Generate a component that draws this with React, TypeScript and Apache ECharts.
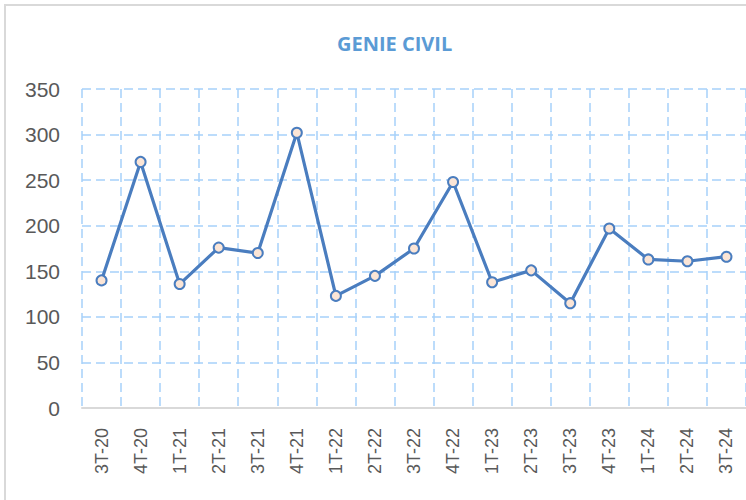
import React, { useEffect, useRef } from "react";
import * as echarts from "echarts";

const categories = ["3T-20", "4T-20", "1T-21", "2T-21", "3T-21", "4T-21", "1T-22", "2T-22", "3T-22", "4T-22", "1T-23", "2T-23", "3T-23", "4T-23", "1T-24", "2T-24", "3T-24"];
const values = [140, 270, 136, 176, 170, 302, 123, 145, 175, 248, 138, 151, 115, 197, 163, 161, 166];
const title = "GENIE CIVIL";

export default function App() {
  const ref = useRef<HTMLDivElement>(null);
  useEffect(() => {
    if (!ref.current) return;
    const chart = echarts.init(ref.current, null, { renderer: "svg" });
    const font = "'Liberation Sans', 'DejaVu Sans', sans-serif";
    chart.setOption({
      animation: false,
      backgroundColor: "#ffffff",
      title: {
        text: title,
        left: 332,
        top: 28,
        textStyle: { color: "#5b9bd5", fontSize: 20, fontWeight: "bold", fontFamily: "'Open Sans', sans-serif" },
      },
      graphic: [
        {
          type: "rect",
          shape: { x: 5, y: 5, width: 800, height: 600 },
          style: { fill: "none", stroke: "#d9d9d9", lineWidth: 2 },
          z: -1,
        },
      ],
      grid: { left: 82, top: 89, right: -4, bottom: 92 },
      xAxis: {
        type: "category",
        data: categories,
        boundaryGap: true,
        axisLine: { show: true, lineStyle: { color: "#d9d9d9", width: 2 } },
        axisTick: { show: false },
        axisLabel: { rotate: 90, fontSize: 18, color: "#595959", margin: 20, fontFamily: font },
        splitLine: { show: true, lineStyle: { color: "#a6d1fa", type: [9, 5], width: 1.5 } },
      },
      yAxis: {
        type: "value",
        min: 0,
        max: 350,
        interval: 50,
        axisLine: { show: false },
        axisTick: { show: false },
        axisLabel: { fontSize: 21, color: "#595959", margin: 22, fontFamily: font },
        splitLine: { show: true, lineStyle: { color: "#a6d1fa", type: [9, 5], width: 1.5 } },
      },
      series: [
        {
          type: "line",
          data: values,
          symbol: "circle",
          symbolSize: 10,
          lineStyle: { color: "#4a7dbf", width: 3.2 },
          itemStyle: { color: "#fbe5d6", borderColor: "#4a7dbf", borderWidth: 2 },
        },
      ],
    });
    return () => chart.dispose();
  }, []);
  return <div ref={ref} style={{ position: "fixed", left: 0, top: 0, width: 746, height: 500 }} />;
}
